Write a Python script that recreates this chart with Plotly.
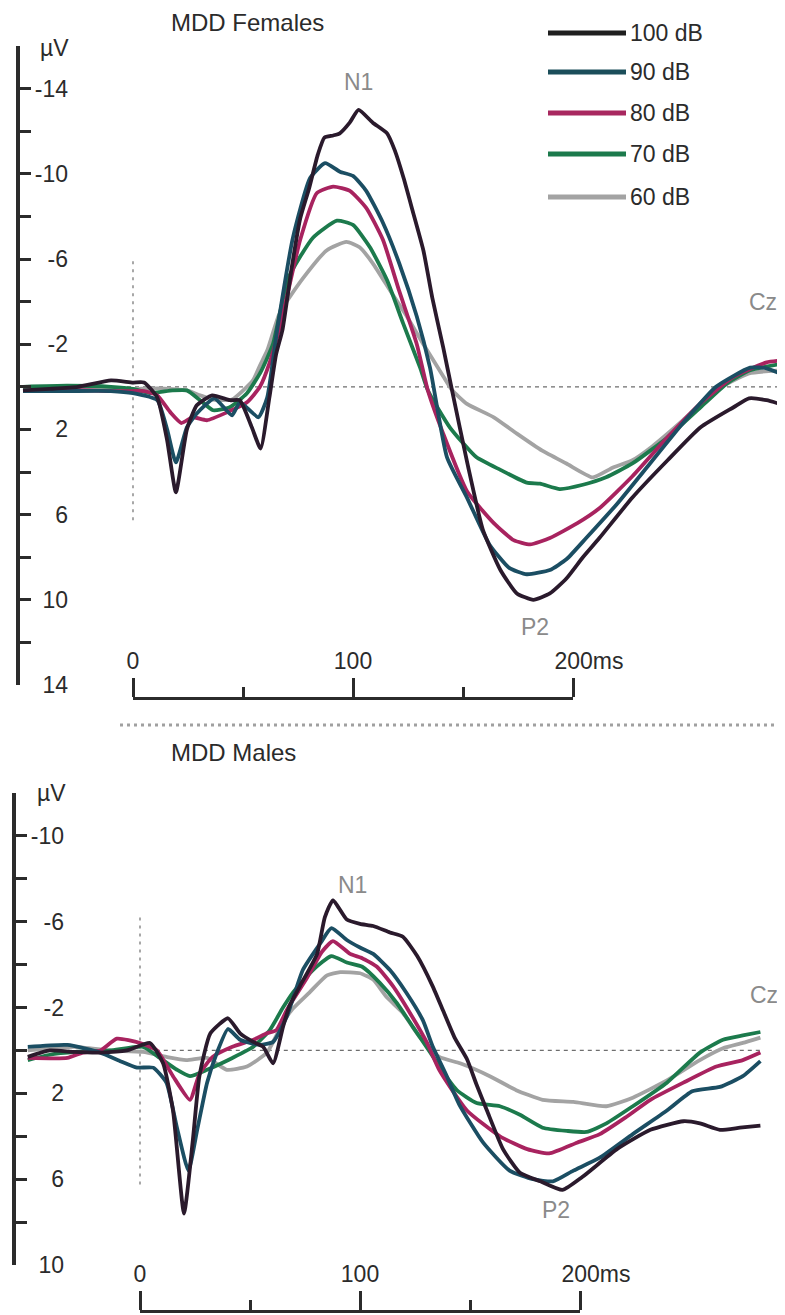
import plotly.graph_objects as go

W, H = 785, 1315
OFF = 8  # the page body adds an 8 px margin around the figure

# ---------------- data (time in ms, amplitude in microvolts) ----------------
# MDD Females
F100_T = [-50, -38, -25, -10, 0, 5, 11, 15.5, 19.5, 24.5, 29, 36, 44, 48.5, 54, 58, 62, 65, 68, 72,
          76, 80, 84, 87, 91, 94, 98.5, 102.5, 109, 115.5, 119, 123, 127, 132, 136, 141, 145, 152, 159, 167,
          174.5, 182, 189.5, 197, 204.5, 212, 227, 243, 258, 273, 280, 288, 296]
F100_V = [0.17, 0.1, 0.0, -0.3, -0.2, -0.2, 0.5, 2.5, 4.95, 2.0, 0.87, 0.4, 0.63, 0.63, 1.9, 2.9, 0.5, -1.5, -2.7, -5.5,
          -7.9, -9.3, -10.9, -11.7, -11.8, -11.9, -12.4, -13.0, -12.4, -11.9, -11.1, -9.8, -8.3, -6.4, -4.2, -1.85, 0.16, 3.6, 6.7, 8.6,
          9.7, 10.0, 9.7, 9.0, 8.0, 7.1, 5.2, 3.45, 1.9, 0.96, 0.54, 0.63, 0.87]

F90_T = [-50, -30, -10, 0, 11, 15.5, 19.5, 24.5, 29, 37, 45, 48.6, 57, 61, 65.5, 72.7, 80.5, 87.3, 94, 100,
         106, 113.6, 121, 129, 135, 142.7, 151.8, 162, 171, 179, 189.5, 197, 206, 220, 235, 250, 265, 280.5, 288, 296]
F90_V = [0.2, 0.2, 0.2, 0.3, 0.63, 2.0, 3.55, 1.9, 1.25, 0.54, 1.34, 0.73, 1.43, 0.5, -2.65, -7.0, -9.8, -10.5, -10.1, -9.9,
         -9.2, -7.7, -5.8, -3.3, -0.9, 3.3, 5.2, 7.4, 8.5, 8.8, 8.6, 8.1, 7.1, 5.5, 3.6, 1.7, 0.0, -0.9, -0.87, -0.54]

F80_T = [-50, -30, -10, 0, 5, 11, 17, 22, 27, 33.6, 42.7, 51.8, 57.7, 62, 67, 76, 83.6, 91, 98.6, 106,
         113.6, 121, 129, 134, 141, 151.8, 164, 173, 180.5, 189.5, 202, 212, 227, 242.7, 257.7, 272.7, 288, 296]
F80_V = [0.2, 0.15, 0.2, 0.2, 0.2, 0.4, 1.2, 1.7, 1.43, 1.57, 1.2, 0.73, 0.0, -1.1, -2.9, -6.9, -9.1, -9.4, -9.2, -8.4,
         -6.9, -4.5, -2.0, 0.16, 2.2, 4.9, 6.4, 7.2, 7.4, 7.1, 6.4, 5.7, 4.2, 2.4, 0.8, -0.45, -1.15, -1.25]

F70_T = [-50, -30, -10, 0, 7.7, 18, 24.5, 30.5, 36.4, 44, 51.8, 57.7, 63.6, 70.6, 81.8, 92.7, 100, 107.7, 115.5, 122.7,
         130.5, 134, 144, 156, 167, 179, 185, 194, 204.5, 215, 227, 242.7, 258, 270, 280.5, 296]
F70_V = [0.0, -0.05, 0.0, 0.1, 0.3, 0.17, 0.17, 0.63, 1.1, 0.96, 0.3, -0.63, -2.0, -5.1, -7.0, -7.8, -7.6, -6.55, -5.0, -3.0,
         -0.9, 0.16, 1.9, 3.3, 3.9, 4.5, 4.55, 4.8, 4.6, 4.25, 3.6, 2.4, 0.96, -0.16, -0.78, -1.1]

F60_T = [-50, -30, -10, 0, 12, 24.5, 30.5, 36.4, 45, 54.5, 57.7, 61, 66.8, 77.3, 88, 97, 103, 109, 117, 124.5,
         132, 141, 145, 151.8, 164, 174.5, 186, 197, 209, 218, 227, 236, 250, 265, 280, 296]
F60_V = [0.0, 0.0, 0.1, 0.1, 0.07, 0.17, 0.4, 0.6, 0.6, -0.3, -1.0, -1.7, -3.5, -5.1, -6.4, -6.8, -6.55, -5.8, -4.5, -3.3,
         -2.0, -0.5, 0.15, 0.8, 1.43, 2.2, 3.0, 3.6, 4.25, 3.8, 3.45, 2.8, 1.57, 0.16, -0.63, -0.78]

# MDD Males
M100_T = [-51, -41, -30.5, -18, -6, 4.5, 10.5, 15, 20, 24, 27, 32, 40, 45.5, 51.5, 56, 60.5, 65, 68, 72.7,
          80.5, 84, 87.7, 94, 100, 106, 113.6, 119.5, 126, 133, 138, 143, 148.6, 153, 157.7, 165, 172.7, 182, 192, 201,
          216.8, 232, 247, 254.5, 263.6, 272.7, 282]
M100_V = [0.3, 0.0, 0.07, 0.1, 0.0, -0.35, 0.6, 2.8, 7.6, 4.2, 1.2, -0.8, -1.5, -0.8, -0.4, -0.17, 0.6, -1.1, -2.1, -3.0,
          -4.5, -6.2, -7.0, -6.1, -5.9, -5.8, -5.5, -5.3, -4.4, -3.0, -1.8, -0.6, 0.4, 1.6, 2.8, 4.6, 5.7, 6.1, 6.5, 5.9,
          4.6, 3.7, 3.3, 3.4, 3.7, 3.6, 3.5]

M90_T = [-51, -33, -18, -9, -1.4, 6, 12, 16.8, 22, 26, 30.5, 35, 40, 45.5, 54.5, 60.5, 66.8, 74, 82, 87,
         94, 100, 106, 113.6, 121, 128.6, 133, 139, 145, 156, 168, 178.6, 187.7, 197, 209, 224, 239.5, 251, 263.6, 274, 282]
M90_V = [-0.17, -0.26, 0.1, 0.5, 0.8, 0.8, 1.5, 3.6, 5.6, 3.7, 1.5, 0.1, -1.0, -0.5, -0.26, -0.4, -1.6, -3.75, -5.0, -5.7,
         -5.15, -4.8, -4.5, -3.75, -2.7, -1.4, -0.2, 1.1, 2.5, 4.3, 5.6, 6.0, 6.1, 5.6, 5.0, 3.9, 2.8, 1.9, 1.7, 1.2, 0.5]

M80_T = [-51, -33, -26, -18, -10.5, 0, 7.7, 15, 22.7, 27, 33, 42, 51.5, 57.7, 62, 66.8, 76, 82.7, 87.7, 95.5,
         101, 107.7, 115, 122.7, 130.5, 136, 148.6, 163.6, 176, 186, 198.6, 209, 221, 232, 247, 262, 274, 282]
M80_V = [0.35, 0.35, 0.1, 0.0, -0.55, -0.35, 0.0, 1.2, 2.3, 1.1, 0.3, -0.17, -0.5, -0.8, -0.95, -1.9, -3.4, -4.6, -5.1, -4.5,
         -4.3, -3.9, -3.0, -1.75, -0.35, 0.9, 2.8, 4.0, 4.6, 4.8, 4.3, 3.9, 3.1, 2.3, 1.5, 0.75, 0.45, 0.1]

M70_T = [-51, -41, -29, -13.6, 1.4, 9, 16.8, 22.7, 30.5, 42, 51.5, 59, 65, 69.5, 78.6, 87, 94, 101, 109, 116.8,
         124, 132, 137.7, 144, 153, 163.6, 172.7, 183, 194, 203, 212, 224, 239.5, 254.5, 265, 274, 282]
M70_V = [0.45, 0.2, 0.07, 0.0, -0.17, 0.35, 0.9, 1.2, 0.9, 0.35, -0.17, -0.95, -2.0, -2.7, -3.75, -4.4, -4.1, -3.9, -3.15, -2.2,
         -1.1, 0.1, 1.0, 1.85, 2.45, 2.6, 3.0, 3.6, 3.75, 3.8, 3.4, 2.6, 1.5, 0.1, -0.5, -0.7, -0.86]

M60_T = [-51, -30, -13.6, 1.4, 12, 21, 30.5, 39.5, 48.6, 57.7, 65, 69.5, 77, 85, 91, 100, 106, 112, 119.5, 127,
         136, 145.5, 159, 171, 183, 197, 212, 224, 239.5, 254.5, 265, 274, 282]
M60_V = [0.0, -0.17, 0.0, 0.07, 0.3, 0.45, 0.35, 0.9, 0.75, 0.1, -1.3, -1.95, -2.7, -3.5, -3.65, -3.6, -3.3, -2.5, -1.75, -0.65,
         0.3, 0.6, 1.2, 1.85, 2.3, 2.4, 2.6, 2.2, 1.4, 0.45, -0.1, -0.35, -0.6]

LEVELS = ["100 dB", "90 dB", "80 dB", "70 dB", "60 dB"]
COLORS = ["#2a1a2c", "#1b4e63", "#a8235f", "#1c7a4c", "#a3a3a3"]
LEGEND_COLORS = ["#1f1f1f", "#1b4e5a", "#a8285f", "#1c7a4c", "#a3a3a3"]

FEMALES = [(F100_T, F100_V), (F90_T, F90_V), (F80_T, F80_V), (F70_T, F70_V), (F60_T, F60_V)]
MALES = [(M100_T, M100_V), (M90_T, M90_V), (M80_T, M80_V), (M70_T, M70_V), (M60_T, M60_V)]

TOP_YTICKS = [-14, -10, -6, -2, 2, 6, 10, 14]
BOT_YTICKS = [-10, -6, -2, 2, 6, 10]
TIME_TICKS = [0, 100, 200]
TIME_TEXT = ["0", "100", "\u00a0\u00a0\u00a0\u00a0\u00a0200ms"]

# ---------------- styling ----------------
FONT = "Liberation Sans, Arial, sans-serif"
INK = "#2b2b2b"
GREYTXT = "#8a8a8a"
FS = 23

FW, FH = W - OFF, H - OFF   # figure size so that it fits the window together with the page margin


def px(x):
    """window pixel column -> paper fraction"""
    return (x - OFF) / FW


def py(y):
    """window pixel row -> paper fraction"""
    return 1 - (y - OFF) / FH


fig = go.Figure()

# draw from quietest to loudest so the 100 dB trace sits on top
for i in reversed(range(5)):
    t, v = FEMALES[i]
    fig.add_trace(go.Scatter(x=t, y=v, xaxis="x", yaxis="y", mode="lines",
                             line=dict(color=COLORS[i], width=3.8, shape="spline", smoothing=0.5),
                             name=LEVELS[i], showlegend=False, hoverinfo="skip"))
for i in reversed(range(5)):
    t, v = MALES[i]
    fig.add_trace(go.Scatter(x=t, y=v, xaxis="x2", yaxis="y2", mode="lines",
                             line=dict(color=COLORS[i], width=3.8, shape="spline", smoothing=0.5),
                             name=LEVELS[i], showlegend=False, hoverinfo="skip"))

# dummy traces so that helper axes are rendered
for xa, ya in [("x", "y5"), ("x3", "y"), ("x2", "y6"), ("x4", "y2")]:
    fig.add_trace(go.Scatter(x=[None], y=[None], xaxis=xa, yaxis=ya, mode="lines",
                             showlegend=False, hoverinfo="skip"))

axis_common = dict(showgrid=False, zeroline=False, fixedrange=True, automargin=False)

yline = dict(showline=True, linecolor=INK, linewidth=3.5, ticks="inside", ticklen=11,
             tickwidth=3, tickcolor=INK, showticklabels=False, tickmode="array", **axis_common)
ylab = dict(showline=False, ticks="", tickmode="array", side="left", anchor="free",
            tickfont=dict(family=FONT, size=FS, color=INK), **axis_common)
tbar = dict(showline=True, linecolor=INK, linewidth=3, ticks="outside", ticklen=19, tickwidth=3,
            tickcolor=INK, tickmode="array", tickvals=TIME_TICKS, ticktext=TIME_TEXT, side="top",
            anchor="free", range=[0, 200], tickfont=dict(family=FONT, size=FS, color=INK),
            minor=dict(tickmode="array", tickvals=[50, 150], ticks="outside", ticklen=10,
                       tickwidth=3, tickcolor=INK, showgrid=False),
            **axis_common)

# pixel geometry of each panel: column of t = 0 and px per ms
TOP_X0, BOT_X0, PX_PER_MS = 133, 140, 2.2

fig.update_layout(
    template="none",
    width=FW, height=FH, margin=dict(l=0, r=0, t=0, b=0, pad=0), autosize=False,
    paper_bgcolor="white", plot_bgcolor="rgba(0,0,0,0)", showlegend=False,
    font=dict(family=FONT, color=INK, size=FS),
    # Females panel
    xaxis=dict(domain=[px(20), 1], range=[(20 - TOP_X0) / PX_PER_MS, (W - TOP_X0) / PX_PER_MS],
               visible=False, anchor="y", **axis_common),
    yaxis=dict(domain=[py(685), py(46)], range=[14, -16], anchor="x",
               tickvals=list(range(-16, 15, 2)), **yline),
    yaxis5=dict(overlaying="y", position=px(68), range=[14, -16], tickvals=TOP_YTICKS,
                ticktext=[str(v) for v in TOP_YTICKS], **ylab),
    xaxis3=dict(domain=[px(133), px(573)], position=py(698), **tbar),
    # Males panel
    xaxis2=dict(domain=[px(16), 1], range=[(16 - BOT_X0) / PX_PER_MS, (W - BOT_X0) / PX_PER_MS],
                visible=False, anchor="y2", **axis_common),
    yaxis2=dict(domain=[py(1265), py(793)], range=[10, -12], anchor="x2",
                tickvals=list(range(-12, 11, 2)), **yline),
    yaxis6=dict(overlaying="y2", position=px(64), range=[10, -12], tickvals=BOT_YTICKS,
                ticktext=[str(v) for v in BOT_YTICKS], **ylab),
    xaxis4=dict(domain=[px(140), px(580)], position=py(1311), **tbar),
)

shapes = []
# baselines and stimulus onset markers
shapes.append(dict(type="line", xref="x", yref="y", x0=-50, x1=296, y0=0, y1=0,
                   line=dict(color="#6e6e6e", width=1.2, dash="4px,4px"), layer="below"))
shapes.append(dict(type="line", xref="x", yref="y", x0=0, x1=0, y0=-5.9, y1=6.3,
                   line=dict(color="#6e6e6e", width=1.2, dash="3px,5px"), layer="below"))
shapes.append(dict(type="line", xref="x2", yref="y2", x0=-51, x1=282, y0=0, y1=0,
                   line=dict(color="#6e6e6e", width=1.2, dash="4px,4px"), layer="below"))
shapes.append(dict(type="line", xref="x2", yref="y2", x0=0, x1=0, y0=-6.2, y1=6.4,
                   line=dict(color="#6e6e6e", width=1.2, dash="3px,5px"), layer="below"))
# panel separator
shapes.append(dict(type="line", xref="paper", yref="paper", x0=px(120), x1=1, y0=py(725), y1=py(725),
                   line=dict(color="#a0a0a0", width=3, dash="3px,4px")))
# legend keys
leg_y = [33, 72, 113, 154, 197]
for i in range(5):
    shapes.append(dict(type="line", xref="paper", yref="paper", x0=px(548), x1=px(626),
                       y0=py(leg_y[i]), y1=py(leg_y[i]),
                       line=dict(color=LEGEND_COLORS[i], width=5)))
fig.update_layout(shapes=shapes)

ann = []
for i in range(5):
    ann.append(dict(xref="paper", yref="paper", x=px(628), y=py(leg_y[i]), text=LEVELS[i],
                    showarrow=False, xanchor="left", yanchor="middle",
                    font=dict(family=FONT, size=FS, color=INK)))
ann += [
    dict(xref="paper", yref="paper", x=px(169), y=py(22), text="MDD Females", showarrow=False,
         xanchor="left", yanchor="middle", font=dict(family=FONT, size=24, color=INK)),
    dict(xref="paper", yref="paper", x=px(169), y=py(752), text="MDD Males", showarrow=False,
         xanchor="left", yanchor="middle", font=dict(family=FONT, size=24, color=INK)),
    dict(xref="paper", yref="paper", x=px(38), y=py(48), text="µV", showarrow=False,
         xanchor="left", yanchor="middle", font=dict(family=FONT, size=FS, color=INK)),
    dict(xref="paper", yref="paper", x=px(35), y=py(793), text="µV", showarrow=False,
         xanchor="left", yanchor="middle", font=dict(family=FONT, size=FS, color=INK)),
    dict(xref="x", yref="y", x=102.3, y=-14.3, text="N1", showarrow=False,
         font=dict(family=FONT, size=FS, color=GREYTXT)),
    dict(xref="x", yref="y", x=182.7, y=11.3, text="P2", showarrow=False,
         font=dict(family=FONT, size=FS, color=GREYTXT)),
    dict(xref="paper", yref="y", x=px(779), y=-4.0, text="Cz", showarrow=False, xanchor="right",
         font=dict(family=FONT, size=FS, color=GREYTXT)),
    dict(xref="x2", yref="y2", x=96.8, y=-7.7, text="N1", showarrow=False,
         font=dict(family=FONT, size=FS, color=GREYTXT)),
    dict(xref="x2", yref="y2", x=189.1, y=7.45, text="P2", showarrow=False,
         font=dict(family=FONT, size=FS, color=GREYTXT)),
    dict(xref="paper", yref="y2", x=px(780), y=-2.6, text="Cz", showarrow=False, xanchor="right",
         font=dict(family=FONT, size=FS, color=GREYTXT)),
]
fig.update_layout(annotations=ann)

fig.write_html("out.html")
